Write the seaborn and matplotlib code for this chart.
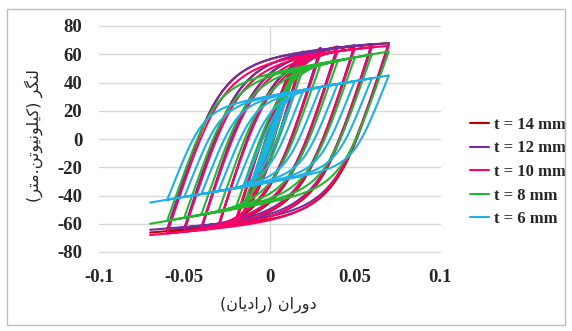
import numpy as np
import pandas as pd
import matplotlib
matplotlib.use("Agg")
import matplotlib.pyplot as plt
from matplotlib.lines import Line2D
from matplotlib.patches import Rectangle
import seaborn as sns

# Rotation amplitudes of the cyclic protocol (rad)
rot_amp = [0.00375, 0.005, 0.0075, 0.01, 0.015, 0.02, 0.03, 0.04, 0.05, 0.06, 0.07]

# Peak moments (kN.m) reached at +amplitude and at -amplitude for each plate thickness
red_pos = [14, 19, 28, 38, 55, 62, 64.5, 65.5, 66.3, 67, 67.8]
red_neg = [-14, -19, -28, -38, -54, -61, -63, -64, -64.8, -65.4, -66.2]
purple_pos = [14, 18.5, 27.5, 37, 54, 61, 64, 65.3, 66.3, 67.2, 68]
purple_neg = [-14, -18.5, -27.5, -37, -53, -59, -61.5, -62.5, -63.2, -63.8, -64.3]
pink_pos = [13.5, 18, 27, 36, 52, 58, 61, 62.5, 64, 65, 66]
pink_neg = [-13.5, -18, -27, -36, -52, -58, -61.5, -63.5, -65.3, -66.8, -68]
green_pos = [12.5, 17, 25.5, 34, 48, 51, 53, 55.2, 57.5, 59.8, 62]
green_neg = [-12.5, -17, -25.5, -34, -47, -49.5, -51.5, -53.5, -55.7, -57.8, -60]
blue_pos = [11, 15, 22, 29, 33.5, 35, 37, 39, 41, 43, 45]
blue_neg = [-11, -15, -22, -29, -33.5, -35, -37, -39, -41, -43, -45]

labels = ["t = 14 mm", "t = 12 mm", "t = 10 mm", "t = 8 mm", "t = 6 mm"]
colors = ["#C00000", "#7030A0", "#FF0066", "#22B830", "#1FB0E8"]

# elastic stiffness, post-yield slope and transition sharpness of each connection
branch_params = {
    "t = 14 mm": (3800, 80, 3.0),
    "t = 12 mm": (3700, 80, 3.0),
    "t = 10 mm": (3600, 90, 3.0),
    "t = 8 mm": (3400, 200, 3.5),
    "t = 6 mm": (3000, 200, 3.5),
}
peaks = {
    "t = 14 mm": (red_pos, red_neg),
    "t = 12 mm": (purple_pos, purple_neg),
    "t = 10 mm": (pink_pos, pink_neg),
    "t = 8 mm": (green_pos, green_neg),
    "t = 6 mm": (blue_pos, blue_neg),
}


def branch(t1, m1, t2, m2, k, h, r, n=90):
    """Smooth elastic-plastic path between two successive peaks."""
    s = np.sign(t2 - t1)
    d_tot = abs(t2 - t1)
    m_tot = s * (m2 - m1)
    d = np.linspace(0.0, d_tot, n)
    d0 = (m_tot - h * d_tot) / (k - h)
    if d0 <= 0 or d0 >= d_tot:
        m = m_tot * d / d_tot
    else:
        e = d / d0
        b = h / k
        sig = b * e + (1 - b) * e / (1 + e ** r) ** (1 / r)
        m = k * d0 * sig
        m = m + (m_tot - m[-1]) * d / d_tot
    return t1 + s * d, m1 + s * m


frames = []
for lab in labels:
    k, h, r = branch_params[lab]
    pos, neg = peaks[lab]
    t_prev, m_prev = 0.0, 0.0
    xs, ys = [], []
    for a, mp, mn in zip(rot_amp, pos, neg):
        for t_next, m_next in ((a, mp), (-a, mn)):
            tx, my = branch(t_prev, m_prev, t_next, m_next, k, h, r)
            xs.append(tx)
            ys.append(my)
            t_prev, m_prev = t_next, m_next
    frames.append(pd.DataFrame({"rot": np.concatenate(xs),
                                "moment": np.concatenate(ys),
                                "series": lab}))
df = pd.concat(frames, ignore_index=True)

sns.set_theme(style="white")
plt.rcParams["font.family"] = ["Liberation Serif", "DejaVu Serif"]
plt.rcParams["axes.unicode_minus"] = False

fig = plt.figure(figsize=(5.72, 3.31), dpi=100)
ax = fig.add_axes([99 / 572, 79 / 331, 341 / 572, 226 / 331])

for y in range(-80, 81, 20):
    ax.axhline(y, color="#D9D9D9", lw=1.0, zorder=0, clip_on=False)
ax.axvline(0, color="#D9D9D9", lw=1.0, zorder=0)

sns.lineplot(data=df, x="rot", y="moment", hue="series", hue_order=labels,
             palette=colors, sort=False, estimator=None, lw=1.5,
             legend=False, ax=ax)

ax.set_xlim(-0.1, 0.1)
ax.set_ylim(-80, 80)
ax.set_xlabel("")
ax.set_ylabel("")
ax.set_xticks([-0.1, -0.05, 0, 0.05, 0.1])
ax.set_xticklabels(["-0.1", "-0.05", "0", "0.05", "0.1"])
yt = list(range(-80, 81, 20))
ax.set_yticks(yt)
ax.set_yticklabels([str(v) for v in yt])
for sp in ax.spines.values():
    sp.set_visible(False)
ax.tick_params(axis="both", length=0, labelsize=13.5)
ax.tick_params(axis="y", pad=12)
ax.tick_params(axis="x", pad=12)
for t in ax.get_xticklabels() + ax.get_yticklabels():
    t.set_fontweight("bold")

persian = ["DejaVu Sans"]
xlab = ("(\uFEE5\uFE8E\uFBFE\uFEA9\uFE8D\uFEAD) "
        "\uFEE5\uFE8D\uFEAD\uFEED\uFEA9")
ylab = ("(\uFEAE\uFE98\uFEE3.\uFEE6\uFE97\uFEEE\uFBFF\uFEE7\uFEEE\uFEE0\uFBFF\uFB90) "
        "\uFEAE\uFB95\uFEE8\uFEDF")
fig.text(268 / 572, 1 - 305 / 331, xlab, ha="center", va="center",
         fontsize=11.5, family=persian)
fig.text(34 / 572, 1 - 135 / 331, ylab, ha="center", va="center",
         rotation=90, fontsize=11.5, family=persian)

handles = [Line2D([], [], color=c, lw=1.5) for c in colors]
ax.legend(handles, labels, loc="center left",
          bbox_to_anchor=(470 / 572, 1 - 172 / 331),
          bbox_transform=fig.transFigure, frameon=False,
          handlelength=1.15, handletextpad=0.3, labelspacing=0.45,
          borderpad=0, borderaxespad=0,
          prop={"family": "Liberation Serif", "weight": "bold", "size": 12})

fig.patches.append(Rectangle((7 / 572, 6 / 331), 558 / 572, 316 / 331,
                             transform=fig.transFigure, fill=False,
                             edgecolor="#BFBFBF", lw=1.0))

fig.savefig("out.png", dpi=100)
